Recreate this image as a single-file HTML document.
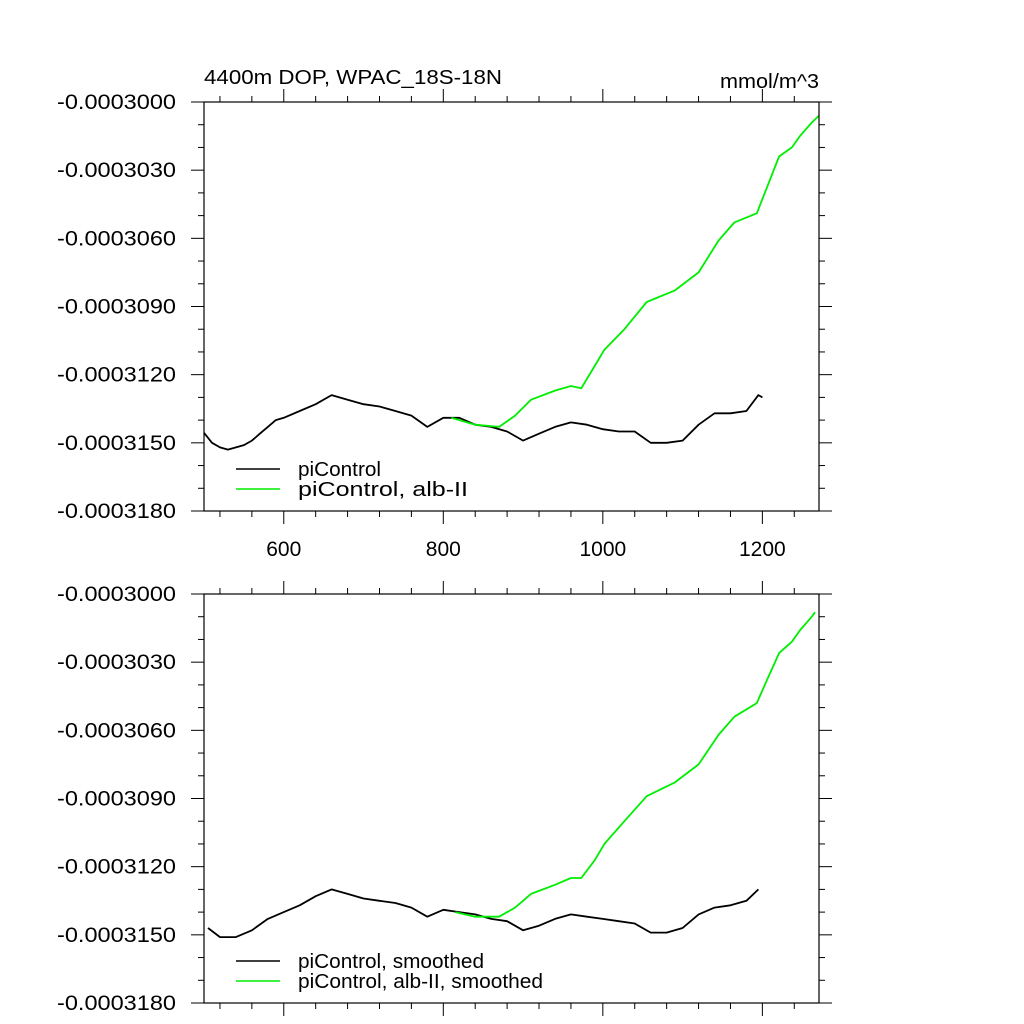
<!DOCTYPE html>
<html><head><meta charset="utf-8"><style>
html,body{margin:0;padding:0;background:#fff;}
svg{display:block;font-family:"Liberation Sans",Arial,sans-serif;}
</style></head><body>
<svg id="chart" width="1024" height="1024" viewBox="0 0 1024 1024"></svg>
<script>
// data (values in units of 1e-7 mmol/m^3)
const ctrlYears = [500,510,520,530,540,550,560,570,580,590,600,620,640,660,680,700,720,740,760,780,800,820,840,860,880,900,920,940,960,980,1000,1020,1040,1060,1080,1100,1120,1140,1160,1180,1195,1200];
const ctrlVals  = [-3145.6,-3150,-3152,-3153,-3152,-3151,-3149,-3146,-3143,-3140,-3139,-3136,-3133,-3129,-3131,-3133,-3134,-3136,-3138,-3143,-3139,-3139,-3142,-3143,-3145,-3149,-3146,-3143,-3141,-3142,-3144,-3145,-3145,-3150,-3150,-3149,-3142,-3137,-3137,-3136,-3129,-3130];
const albYears  = [810,840,870,890,910,940,960,973,990,1002,1027,1055,1090,1120,1145,1165,1193,1203,1221,1237,1247,1262,1271];
const albVals   = [-3139,-3142,-3143,-3138,-3131,-3127,-3125,-3126,-3116,-3109,-3100,-3088,-3083,-3075,-3061,-3053,-3049,-3040,-3024,-3020,-3015,-3009,-3006];
const ctrlSmYears = [505,520,540,560,580,600,620,640,660,680,700,720,740,760,780,800,820,840,860,880,900,920,940,960,980,1000,1020,1040,1060,1080,1100,1120,1140,1160,1180,1195];
const ctrlSmVals  = [-3147,-3151,-3151,-3148,-3143,-3140,-3137,-3133,-3130,-3132,-3134,-3135,-3136,-3138,-3142,-3139,-3140,-3141,-3143,-3144,-3148,-3146,-3143,-3141,-3142,-3143,-3144,-3145,-3149,-3149,-3147,-3141,-3138,-3137,-3135,-3130];
const albSmYears  = [815,840,870,890,910,940,960,973,990,1002,1027,1055,1090,1120,1145,1165,1193,1203,1221,1237,1247,1262,1266];
const albSmVals   = [-3140,-3142,-3142,-3138,-3132,-3128,-3125,-3125,-3117,-3110,-3100,-3089,-3083,-3075,-3062,-3054,-3048,-3040,-3026,-3021,-3016,-3010,-3008];
const yTickVals = [-3000,-3030,-3060,-3090,-3120,-3150,-3180];
const yTickLabels = ["-0.0003000","-0.0003030","-0.0003060","-0.0003090","-0.0003120","-0.0003150","-0.0003180"];
const xTickVals = [600,800,1000,1200];
const xTickLabels = ["600","800","1000","1200"];

const NS="http://www.w3.org/2000/svg";
const svg=document.getElementById('chart');
const X0=204,X1=819,XMIN=500,XMAX=1271,YMAX=-3000,YMIN=-3180;
function mk(tag,attrs,parent){const e=document.createElementNS(NS,tag);for(const k in attrs)e.setAttribute(k,attrs[k]);(parent||svg).appendChild(e);return e;}

function panel(top,bottom,name,series,legend,showXLabels){
  const g=mk('g',{});
  
  
  const sx=v=>X0+(v-XMIN)/(XMAX-XMIN)*(X1-X0);
  const sy=v=>top+(YMAX-v)/(YMAX-YMIN)*(bottom-top);
  for(let v=YMAX;v>=YMIN;v-=10){
    const major=((YMAX-v)%30)===0;const L=major?13:6;const y=sy(v);
    const t1=mk('line',{x1:X0-L,x2:X0,y1:y,y2:y,stroke:'#000','stroke-width':1},g);
    
    
    mk('line',{x1:X1,x2:X1+L,y1:y,y2:y,stroke:'#000','stroke-width':1},g);
  }
  for(let v=520;v<=XMAX;v+=40){
    const major=(v%200)===0;const L=major?13:6;const x=sx(v);
    const t2=mk('line',{x1:x,x2:x,y1:bottom,y2:bottom+L,stroke:'#000','stroke-width':1},g);
    
    
    mk('line',{x1:x,x2:x,y1:top-L,y2:top,stroke:'#000','stroke-width':1},g);
  }
  yTickVals.forEach((v,i)=>{
    const t=mk('text',{x:176,y:sy(v)+7,'text-anchor':'end','font-size':21,textLength:119,lengthAdjust:'spacingAndGlyphs'},g);
    t.textContent=yTickLabels[i];
    
    
  });
  if(showXLabels){
    xTickVals.forEach((v,i)=>{
      const t=mk('text',{x:sx(v),y:bottom+45,'text-anchor':'middle','font-size':21},g);
      t.textContent=xTickLabels[i];
      
      
    });
  }
  series.forEach(s=>{
    const d=s.xs.map((x,i)=>(i?'L':'M')+sx(x).toFixed(1)+','+sy(s.ys[i]).toFixed(1)).join(' ');
    const p=mk('path',{d:d,fill:'none',stroke:s.color,'stroke-width':1.8,'stroke-linejoin':'round'},g);
    
    
  });
  mk('rect',{x:X0,y:top,width:X1-X0,height:bottom-top,fill:'none',stroke:'#000','stroke-width':1.2},g);
  legend.forEach((l,i)=>{
    const y=bottom-42+i*20;
    const ln=mk('line',{x1:236,x2:280,y1:y,y2:y,stroke:l.color,'stroke-width':1.6},g);
    
    
    const t=mk('text',{x:298,y:y+7,'font-size':20,textLength:l.w,lengthAdjust:'spacingAndGlyphs'},g);
    t.textContent=l.text;
    
    
  });
}
panel(102,511,'top-panel',[
  {xs:ctrlYears,ys:ctrlVals,color:'#000',name:'picontrol-line'},
  {xs:albYears,ys:albVals,color:'#00ee00',name:'alb-ii-line'}],
  [{text:'piControl',color:'#000',w:83},{text:'piControl, alb-II',color:'#00ee00',w:170}],true);
panel(594,1003,'bottom-panel',[
  {xs:ctrlSmYears,ys:ctrlSmVals,color:'#000',name:'picontrol-smoothed-line'},
  {xs:albSmYears,ys:albSmVals,color:'#00ee00',name:'alb-ii-smoothed-line'}],
  [{text:'piControl, smoothed',color:'#000',w:186},{text:'piControl, alb-II, smoothed',color:'#00ee00',w:245}],false);
const t1=mk('text',{x:204,y:84,'font-size':20,textLength:298,lengthAdjust:'spacingAndGlyphs'});
t1.textContent='4400m DOP, WPAC_18S-18N';


const t2=mk('text',{x:819,y:88,'font-size':20,'text-anchor':'end',textLength:99,lengthAdjust:'spacingAndGlyphs'});
t2.textContent='mmol/m^3';


</script>
</body></html>
